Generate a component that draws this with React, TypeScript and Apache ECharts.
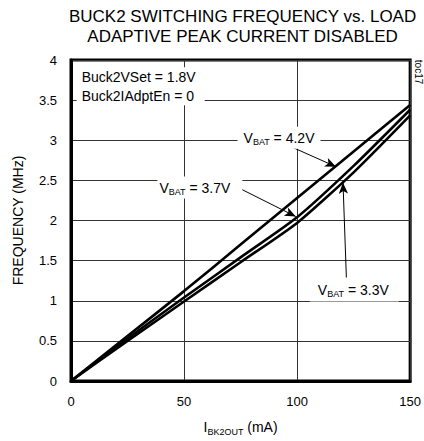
import React, { useEffect, useRef } from "react";
import * as echarts from "echarts";

const loadMA = [0, 25, 50, 75, 100, 125, 150];
const freqVbat42 = [0, 0.56, 1.12, 1.7, 2.28, 2.86, 3.44];
const freqVbat37 = [0, 0.53, 1.04, 1.54, 2.04, 2.68, 3.38];
const freqVbat33 = [0, 0.5, 0.99, 1.48, 1.97, 2.6, 3.31];
const xTickValues = [0, 50, 100, 150];
const yTickValues = [0, 0.5, 1, 1.5, 2, 2.5, 3, 3.5, 4];

const titleLines = ["BUCK2 SWITCHING FREQUENCY vs. LOAD", "ADAPTIVE PEAK CURRENT DISABLED"];
const conditionLines = ["Buck2VSet = 1.8V", "Buck2IAdptEn = 0"];
const seriesLabels = ["4.2V", "3.7V", "3.3V"];

const NARROW = "'Liberation Sans Narrow', 'Arial Narrow', 'Liberation Sans', Arial, sans-serif";
const SANS = "'Liberation Sans', Arial, sans-serif";

function pair(xs: number[], ys: number[]) {
  return xs.map((x, i) => [x, ys[i]]);
}

export default function App() {
  const ref = useRef<HTMLDivElement>(null);
  useEffect(() => {
    document.body.style.margin = "0";
    if (!ref.current) return;
    const chart = echarts.init(ref.current, undefined, { renderer: "svg" });
    const lineStyle = { color: "#000", width: 2.6 };
    const subRich = {
      n: { fontSize: 14, fontFamily: SANS, color: "#000", lineHeight: 18 },
      s: { fontSize: 9, fontFamily: SANS, color: "#000", lineHeight: 10, verticalAlign: "bottom" },
    };
    chart.setOption({
      animation: false,
      backgroundColor: "#fff",
      grid: { left: 71, width: 340, top: 60, height: 328, show: true, borderColor: "#000", borderWidth: 3, backgroundColor: "transparent" },
      xAxis: {
        type: "value",
        min: xTickValues[0],
        max: xTickValues[xTickValues.length - 1],
        interval: 50,
        name: "{n|I}{s|BK2OUT}{n| (mA)}",
        nameLocation: "middle",
        nameGap: 37,
        nameTextStyle: {
          rich: {
            n: { fontSize: 14, fontFamily: NARROW, color: "#000", lineHeight: 18 },
            s: { fontSize: 9, fontFamily: NARROW, color: "#000", lineHeight: 10, verticalAlign: "bottom" },
          },
        },
        axisLine: { show: true, lineStyle: { color: "#000", width: 3 } },
        axisTick: { show: false },
        axisLabel: { fontFamily: NARROW, fontSize: 13, color: "#000", margin: 14 },
        splitLine: { show: true, lineStyle: { color: "#333", width: 1 } },
      },
      yAxis: {
        type: "value",
        min: yTickValues[0],
        max: yTickValues[yTickValues.length - 1],
        interval: 0.5,
        name: "FREQUENCY (MHz)",
        nameLocation: "middle",
        nameGap: 46,
        nameTextStyle: { fontFamily: NARROW, fontSize: 14, color: "#000" },
        axisLine: { show: true, lineStyle: { color: "#000", width: 3 } },
        axisTick: { show: false },
        axisLabel: { fontFamily: NARROW, fontSize: 13, color: "#000", margin: 14 },
        splitLine: { show: true, lineStyle: { color: "#333", width: 1 } },
      },
      series: [
        {
          name: "VBAT = 4.2V",
          type: "line",
          data: pair(loadMA, freqVbat42),
          showSymbol: false,
          smooth: 0.2,
          lineStyle,
          z: 3,
          markLine: {
            silent: true,
            symbol: ["none", "arrow"],
            symbolSize: [7, 11],
            label: { show: false },
            lineStyle: { color: "#000", width: 1, type: "solid" },
            data: [
              [{ coord: [95.7, 2.94] }, { coord: [117.2, 2.67] }],
              [{ coord: [74.6, 2.4] }, { coord: [99.4, 2.05] }],
              [{ coord: [121.8, 1.28] }, { coord: [120.3, 2.47] }],
            ],
          },
        },
        { name: "VBAT = 3.7V", type: "line", data: pair(loadMA, freqVbat37), showSymbol: false, smooth: 0.2, lineStyle, z: 3 },
        { name: "VBAT = 3.3V", type: "line", data: pair(loadMA, freqVbat33), showSymbol: false, smooth: 0.2, lineStyle, z: 3 },
      ],
    });

    const toPx = (p: number[]) => chart.convertToPixel({ gridIndex: 0 }, p) as number[];
    const labelAnchors = [
      [92, 3.03],
      [57, 2.41],
      [125.3, 1.14],
    ];
    const labelPads = [
      [2, 6, 2, 6],
      [2, 12, 2, 2],
      [3, 10, 3, 8],
    ];
    const vbatTexts = seriesLabels.map((v, i) => {
      const [x, y] = toPx(labelAnchors[i]);
      return {
        type: "text",
        x,
        y,
        z: 50,
        style: {
          text: `{n|V}{s|BAT}{n| = ${v}}`,
          align: "center",
          verticalAlign: "middle",
          backgroundColor: "#fff",
          padding: labelPads[i],
          rich: subRich,
        },
      };
    });
    const [cx, cy] = toPx([4.7, 3.91]);
    const [tx, ty] = toPx([150, 3.85]);
    const [titleX] = toPx([75, 0]);
    chart.setOption({
      graphic: [
        {
          type: "text",
          x: titleX + 2,
          y: 6,
          style: {
            text: titleLines.join("\n"),
            fontFamily: SANS,
            fontSize: 17,
            lineHeight: 20,
            fill: "#000",
            align: "center",
            verticalAlign: "top",
          },
        },
        {
          type: "text",
          x: cx - 5,
          y: cy,
          z: 50,
          style: {
            text: conditionLines.join("\n"),
            fontFamily: SANS,
            fontSize: 14,
            lineHeight: 19,
            fill: "#000",
            backgroundColor: "#fff",
            padding: [0, 9, 0, 5],
          },
        },
        {
          type: "text",
          x: tx + 8,
          y: ty,
          rotation: -Math.PI / 2,
          style: { text: "toc17", fontFamily: NARROW, fontSize: 10, fill: "#000", align: "center", verticalAlign: "middle" },
        },
        ...vbatTexts,
      ],
    });
    return () => chart.dispose();
  }, []);
  return <div ref={ref} style={{ width: 424, height: 441 }} />;
}
